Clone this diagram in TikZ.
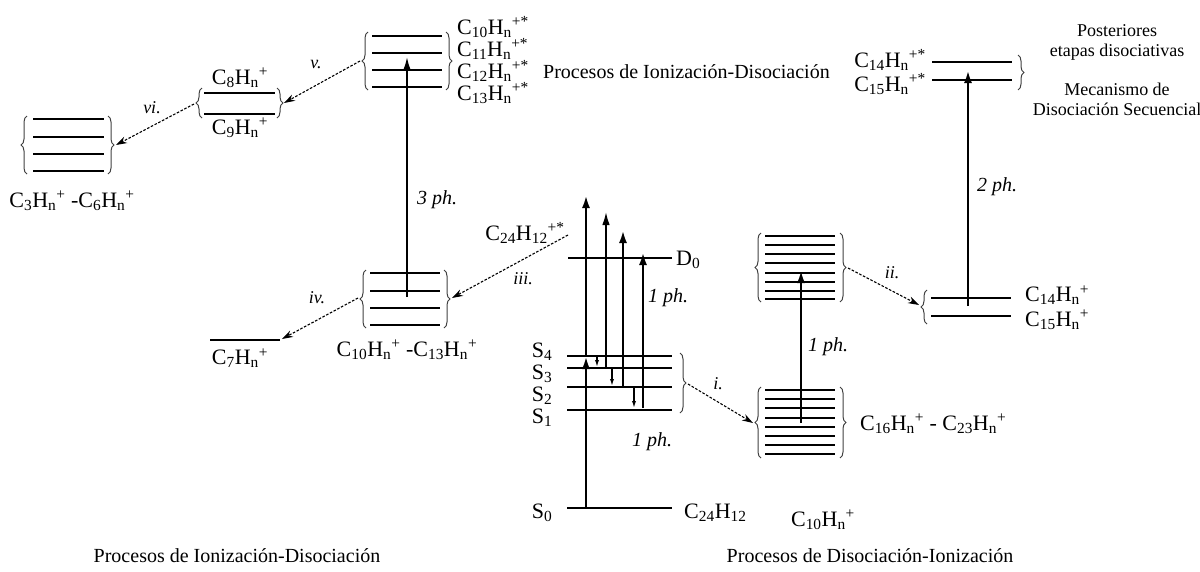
\documentclass[tikz,border=0pt]{standalone}
\usepackage{fontspec}
\setmainfont{Liberation Serif}
\usetikzlibrary{arrows.meta,decorations.pathreplacing}
\newcommand{\ssb}[1]{\textsubscript{#1}}
\newcommand{\ssp}[1]{\textsuperscript{#1}}
\tikzset{
  thinlev/.style={line width=1.6pt},
  thicklev/.style={line width=2.8pt},
  brc/.style={decorate,decoration={brace,amplitude=6pt},draw=black!75,line width=1pt},
  dsh/.style={dash pattern=on 2.6pt off 1.6pt,line width=1.1pt,-{Stealth[length=11pt,width=7pt]}},
  bigar/.style={line width=2.8pt,-{Latex[length=13pt,width=8pt]}},
  thinar/.style={line width=1.6pt,-{Latex[length=13pt,width=7.5pt]}},
  smallar/.style={line width=1.3pt,-{Latex[length=7pt,width=4.2pt]}},
  mol/.style={font=\fontsize{22}{24}\selectfont,inner sep=0pt},
  phl/.style={font=\fontsize{20}{22}\selectfont\itshape,inner sep=0pt},
  roml/.style={font=\fontsize{18}{20}\selectfont\itshape,inner sep=0pt},
  sml/.style={font=\fontsize{18}{20}\selectfont,align=center,inner sep=0pt},
  procl/.style={font=\fontsize{20}{22}\selectfont,inner sep=0pt}
}
\begin{document}
\begin{tikzpicture}[x=1pt,y=-1pt]
\useasboundingbox (0,0) rectangle (1200,571);

% ---------- group C3-C6 ----------
\foreach \yy in {119,137,154,171} \draw[thinlev] (33,\yy) -- (104,\yy);
\draw[brc] (27,174) -- (27,116);
\draw[brc] (108,116) -- (108,174);
\coordinate (g1r) at (116,145);
\node[mol] (lc36) at (72,201) {C\ssb{3}H\ssb{n}\ssp{+} -C\ssb{6}H\ssb{n}\ssp{+}};

% ---------- group C8/C9 ----------
\draw[thinlev] (204,93) -- (275,93);
\draw[thinlev] (204,114) -- (275,114);
\draw[brc] (202,118) -- (202,88);
\draw[brc] (277,88) -- (277,118);
\coordinate (g2l) at (194,104);
\coordinate (g2r) at (284,103);
\node[mol] (lc8) at (240,78) {C\ssb{8}H\ssb{n}\ssp{+}};
\node[mol] (lc9) at (240,128) {C\ssb{9}H\ssb{n}\ssp{+}};

% ---------- group C10-C13 (upper) ----------
\draw[thicklev] (372,36) -- (442,36);
\foreach \yy in {53,70,87} \draw[thinlev] (372,\yy) -- (442,\yy);
\draw[brc] (368,90) -- (368,32);
\draw[brc] (446,32) -- (446,90);
\coordinate (g3l) at (360,61);
\node[mol,anchor=base west] (lc10s) at (457,34) {C\ssb{10}H\ssb{n}\ssp{+*}};
\node[mol,anchor=base west] (lc11s) at (457,56) {C\ssb{11}H\ssb{n}\ssp{+*}};
\node[mol,anchor=base west] (lc12s) at (457,78) {C\ssb{12}H\ssb{n}\ssp{+*}};
\node[mol,anchor=base west] (lc13s) at (457,100) {C\ssb{13}H\ssb{n}\ssp{+*}};
\node[procl,anchor=base west] (ptop) at (543,78) {Procesos de Ionización-Disociación};

% ---------- group C10-C13 (lower) ----------
\draw[thicklev] (370,273) -- (440,273);
\draw[thinlev] (370,291) -- (440,291);
\draw[thinlev] (370,308) -- (440,308);
\draw[thicklev] (370,325) -- (440,325);
\draw[brc] (366,328) -- (366,270);
\draw[brc] (444,270) -- (444,328);
\coordinate (g4l) at (358,298);
\coordinate (g4r) at (452,298);
\coordinate (g4c) at (407,297);
\coordinate (g3c) at (407,57);
\node[mol] (lc1013) at (407,350) {C\ssb{10}H\ssb{n}\ssp{+} -C\ssb{13}H\ssb{n}\ssp{+}};
\draw[thinar] (g4c) -- (g3c);
\node[phl] (ph3) at (437,200) {3 ph.};

% ---------- C7 ----------
\draw[thinlev] (210,340) -- (280,340);
\coordinate (c7r) at (282,339);
\node[mol] (lc7) at (240,358) {C\ssb{7}H\ssb{n}\ssp{+}};

% dashed arrows left part
\draw[dsh] (g3l) -- (g2r);
\node[roml] (rv) at (316,64) {v.};
\draw[dsh] (g2l) -- (g1r);
\node[roml] (rvi) at (152,108) {vi.};
\draw[dsh] (g4l) -- (c7r);
\node[roml] (riv) at (317,298) {iv.};
\node[mol] (lc24s) at (525,233) {C\ssb{24}H\ssb{12}\ssp{+*}};
\coordinate (c24s) at (568,235);
\draw[dsh] (c24s) -- (g4r);
\node[roml] (riii) at (523,279) {iii.};

% ---------- central column ----------
\draw[thinlev] (568,258) -- (672,258);
\node[mol,anchor=west] (ld0) at (676,260) {D\ssb{0}};
\draw[thicklev] (567,356) -- (672,356);
\draw[thinlev] (567,368) -- (672,368);
\draw[thicklev] (567,387) -- (672,387);
\draw[thicklev] (567,410) -- (672,410);
\draw[thicklev] (567,508) -- (672,508);
\node[mol] (ls4) at (542,352) {S\ssb{4}};
\node[mol] (ls3) at (542,374) {S\ssb{3}};
\node[mol] (ls2) at (542,396) {S\ssb{2}};
\node[mol] (ls1) at (542,418) {S\ssb{1}};
\node[mol] (ls0) at (542,513) {S\ssb{0}};
\node[mol,anchor=west] (lc24) at (684,513) {C\ssb{24}H\ssb{12}};
\node[mol] (lc10p) at (823,520) {C\ssb{10}H\ssb{n}\ssp{+}};

\coordinate (s0a) at (586,508);
\coordinate (s4a) at (586,356);
\coordinate (topa) at (586,195);
\draw[bigar] (s0a) -- (s4a);
\draw[bigar] (s4a) -- (topa);
\draw[thinar] (606,367) -- (606,212);
\draw[bigar] (623,387) -- (623,230);
\draw[bigar] (643,408) -- (643,252);
\draw[smallar] (597,357) -- (597,367);
\draw[smallar] (612,369) -- (612,386);
\draw[smallar] (634,388) -- (634,408);
\node[phl] (ph1a) at (668,298) {1 ph.};
\node[phl] (ph1b) at (652,442) {1 ph.};

\draw[brc] (680,353) -- (680,413);
\coordinate (sbr) at (688,384);

% ---------- right part ----------
\foreach \yy/\w in {390/2.8,399/1.6,408/1.6,418/2.8,427/1.6,436/1.6,445/2.8,454/1.6}
  \draw[line width=\w pt] (765,\yy) -- (835,\yy);
\draw[brc] (761,458) -- (761,387);
\draw[brc] (840,387) -- (840,458);
\coordinate (g5l) at (753,423);
\coordinate (g5c) at (801,423);
\node[mol,anchor=west] (lc1623) at (860,424) {C\ssb{16}H\ssb{n}\ssp{+} - C\ssb{23}H\ssb{n}\ssp{+}};
\draw[dsh] (sbr) -- (g5l);
\node[roml] (ri) at (718,384) {i.};

\foreach \yy/\w in {236/1.6,245/2.8,254/2.8,263/2.8,273/1.6,282/2.8,291/1.6,299/2.8}
  \draw[line width=\w pt] (765,\yy) -- (835,\yy);
\draw[brc] (761,302) -- (761,233);
\draw[brc] (840,233) -- (840,302);
\coordinate (g6c) at (801,270);
\coordinate (g6r) at (848,268);
\draw[bigar] (g5c) -- (g6c);
\node[phl] (ph1c) at (828,347) {1 ph.};

\draw[thicklev] (931,298) -- (1011,298);
\draw[thicklev] (931,316) -- (1011,316);
\draw[brc] (927,324) -- (927,290);
\coordinate (g7l) at (919,305);
\draw[dsh] (g6r) -- (g7l);
\node[roml] (rii) at (892,273) {ii.};
\node[mol,anchor=west] (lc14) at (1025,295) {C\ssb{14}H\ssb{n}\ssp{+}};
\node[mol,anchor=west] (lc15) at (1025,320) {C\ssb{15}H\ssb{n}\ssp{+}};

\coordinate (g7c) at (968,306);
\coordinate (g8c) at (968,70);
\draw[bigar] (g7c) -- (g8c);
\node[phl] (ph2) at (997,187) {2 ph.};

\draw[thinlev] (932,62) -- (1012,62);
\draw[thinlev] (932,80) -- (1012,80);
\draw[brc] (1018,55) -- (1018,90);
\node[mol,anchor=east] (lc14s) at (926,60) {C\ssb{14}H\ssb{n}\ssp{+*}};
\node[mol,anchor=east] (lc15s) at (926,84) {C\ssb{15}H\ssb{n}\ssp{+*}};
\node[sml] (post) at (1117,42) {Posteriores\\etapas disociativas};
\node[sml] (meca) at (1117,99) {Mecanismo de\\Disociación Secuencial};

% ---------- bottom captions ----------
\node[procl] (capl) at (237,556) {Procesos de Ionización-Disociación};
\node[procl] (capr) at (870,556) {Procesos de Disociación-Ionización};
\end{tikzpicture}
\end{document}
